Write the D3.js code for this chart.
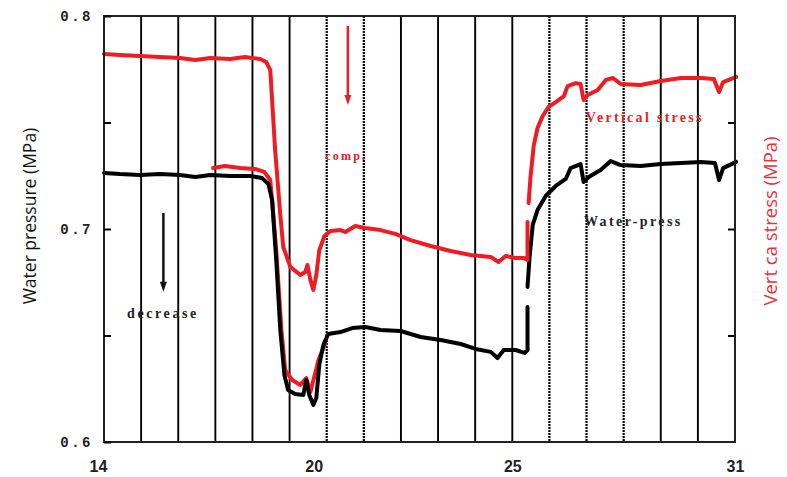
<!DOCTYPE html>
<html>
<head>
<meta charset="utf-8">
<script src="https://cdn.jsdelivr.net/npm/d3@7"></script>
<style>
  body { margin: 0; background: #fff; }
  svg { display: block; }
  .lbl-serif { font-family: "Liberation Serif", "DejaVu Serif", serif; font-weight: bold; }
</style>
</head>
<body>
<div id="chart"></div>
<script>
// time (day) and pressure values, null = gap in the trace
const stressT = [14.00, 14.43, 14.97, 15.51, 16.05, 16.46, 16.86, 17.40, 17.80, 18.21, 18.37, 18.48, 18.61, 18.75, 18.83, 19.02, 19.29, 19.42, 19.48, 19.56, 19.64, 19.72, 19.80, 19.94, 20.10, 20.37, 20.50, 20.77, 21.04, 21.45, 21.85, 22.26, 22.80, 23.34, 23.88, 24.42, 24.63, 24.82, 25.09, 25.31, 25.41, 25.41, 25.42, 25.44, 25.49, 25.58, 25.68, 25.82, 25.98, 26.17, 26.39, 26.49, 26.71, 26.84, 26.92, 27.03, 27.30, 27.52, 27.71, 27.92, 28.46, 29.00, 29.54, 30.08, 30.43, 30.57, 30.68, 31.03];
const stressV = [0.7822, 0.7817, 0.7812, 0.7808, 0.7803, 0.7793, 0.7803, 0.7798, 0.7808, 0.7798, 0.7784, 0.7746, 0.7371, 0.7066, 0.6915, 0.6822, 0.6784, 0.6798, 0.6831, 0.6761, 0.6714, 0.6784, 0.6901, 0.6967, 0.6991, 0.6995, 0.6986, 0.7014, 0.7005, 0.6995, 0.6977, 0.6948, 0.6920, 0.6897, 0.6878, 0.6869, 0.6845, 0.6873, 0.6864, 0.6864, 0.6854, 0.7033, null, 0.7122, 0.7244, 0.7394, 0.7474, 0.7531, 0.7573, 0.7596, 0.7624, 0.7671, 0.7685, 0.7681, 0.7606, 0.7629, 0.7653, 0.7700, 0.7709, 0.7681, 0.7676, 0.7695, 0.7709, 0.7709, 0.7704, 0.7643, 0.7690, 0.7714];

const stress2T = [16.94, 17.26, 17.67, 18.07, 18.32, 18.48, 18.64, 18.78, 18.88, 19.07, 19.29, 19.45, 19.56, 19.78, 19.96];
const stress2V = [0.7286, 0.7296, 0.7286, 0.7282, 0.7268, 0.7230, 0.6901, 0.6526, 0.6338, 0.6291, 0.6268, 0.6300, 0.6235, 0.6385, 0.6465];

const waterT = [14.00, 14.43, 14.97, 15.51, 16.05, 16.46, 16.86, 17.40, 17.94, 18.26, 18.43, 18.53, 18.64, 18.75, 18.86, 18.96, 19.15, 19.37, 19.45, 19.53, 19.64, 19.72, 19.80, 19.91, 20.04, 20.37, 20.69, 21.04, 21.45, 21.99, 22.53, 23.07, 23.61, 24.01, 24.42, 24.60, 24.77, 25.09, 25.33, 25.41, 25.41, 25.41, 25.41, 25.47, 25.55, 25.68, 25.90, 26.17, 26.44, 26.57, 26.84, 26.92, 27.06, 27.38, 27.65, 27.92, 28.46, 29.00, 29.54, 30.08, 30.46, 30.57, 30.68, 31.03];
const waterV = [0.7263, 0.7258, 0.7254, 0.7258, 0.7254, 0.7244, 0.7254, 0.7249, 0.7249, 0.7239, 0.7211, 0.7136, 0.6854, 0.6526, 0.6315, 0.6244, 0.6225, 0.6221, 0.6291, 0.6221, 0.6174, 0.6207, 0.6362, 0.6455, 0.6507, 0.6516, 0.6535, 0.6540, 0.6526, 0.6521, 0.6493, 0.6479, 0.6460, 0.6437, 0.6423, 0.6394, 0.6432, 0.6432, 0.6418, 0.6432, 0.6634, null, 0.6728, 0.6878, 0.7019, 0.7089, 0.7155, 0.7202, 0.7235, 0.7286, 0.7305, 0.7221, 0.7244, 0.7277, 0.7319, 0.7300, 0.7296, 0.7305, 0.7310, 0.7315, 0.7310, 0.7230, 0.7286, 0.7315];

const xTicks = [14, 20, 25, 31];
const gridDays = d3.range(15, 31);
const dottedDays = [20, 21, 26, 27, 28];
const yLabelTicks = [0.6, 0.7, 0.8];
const yMinorTicks = [0.65, 0.75];

const W = 787, H = 477;
const margin = { top: 16, right: 52, bottom: 35, left: 104 };
const width = W - margin.left - margin.right,
      height = H - margin.top - margin.bottom;

const RED = "#ee1c24";

const svg = d3.select("#chart").append("svg")
    .attr("width", W)
    .attr("height", H);
const g = svg.append("g")
    .attr("transform", `translate(${margin.left},${margin.top})`);

const x = d3.scaleLinear().domain([14, 31]).range([0, width]);
const y = d3.scaleLinear().domain([0.6, 0.8]).range([height, 0]);
const y2 = d3.scaleLinear().domain([0.6, 0.8]).range([height, 0]); // right axis, unlabelled

// vertical grid lines
g.selectAll(".grid")
  .data(gridDays)
  .enter().append("line")
    .attr("class", "grid")
    .attr("x1", d => x(d)).attr("x2", d => x(d))
    .attr("y1", 0).attr("y2", height)
    .attr("stroke", "#000")
    .attr("stroke-width", d => dottedDays.includes(d) ? 2.2 : 1.9)
    .attr("stroke-dasharray", d => dottedDays.includes(d) ? "2,1" : null);

// curves
const zip = (t, v) => t.map((d, i) => [d, v[i]]);
const line = d3.line()
    .defined(d => d[1] != null)
    .x(d => x(d[0]))
    .y(d => y(d[1]));
const line2 = d3.line()
    .defined(d => d[1] != null)
    .x(d => x(d[0]))
    .y(d => y2(d[1]));

g.append("path")
  .datum(zip(stress2T, stress2V))
  .attr("d", line2)
  .attr("fill", "none").attr("stroke", RED)
  .attr("stroke-width", 4).attr("stroke-linejoin", "round").attr("stroke-linecap", "round");

g.append("path")
  .datum(zip(waterT, waterV))
  .attr("d", line)
  .attr("fill", "none").attr("stroke", "#000")
  .attr("stroke-width", 4).attr("stroke-linejoin", "round").attr("stroke-linecap", "round");

g.append("path")
  .datum(zip(stressT, stressV))
  .attr("d", line2)
  .attr("fill", "none").attr("stroke", RED)
  .attr("stroke-width", 4).attr("stroke-linejoin", "round").attr("stroke-linecap", "round");

// frame
g.append("rect")
  .attr("width", width).attr("height", height)
  .attr("fill", "none").attr("stroke", "#222").attr("stroke-width", 2);

// left axis: ticks inward
const yAxis = d3.axisLeft(y)
    .tickValues(yLabelTicks.concat(yMinorTicks))
    .tickSize(-7)
    .tickPadding(11)
    .tickFormat(d => yLabelTicks.includes(d) ? d3.format(".1f")(d) : "");
const ya = g.append("g").call(yAxis);
ya.select(".domain").remove();
ya.selectAll("line").attr("stroke", "#000").attr("stroke-width", 2);
ya.selectAll("text")
  .attr("font-family", "'Liberation Mono', 'DejaVu Sans Mono', monospace")
  .attr("font-weight", "bold")
  .attr("font-size", 14)
  .attr("letter-spacing", "2.5px")
  .attr("fill", "#222");

// right axis: ticks inward, no labels
const yAxis2 = d3.axisRight(y2)
    .tickValues([0.65, 0.7, 0.75])
    .tickSize(-7)
    .tickFormat("");
const ya2 = g.append("g").attr("transform", `translate(${width},0)`).call(yAxis2);
ya2.select(".domain").remove();
ya2.selectAll("line").attr("stroke", "#000").attr("stroke-width", 2);

// bottom axis
const xAxis = d3.axisBottom(x).tickValues(xTicks).tickSize(0).tickPadding(19);
const xa = g.append("g").attr("transform", `translate(0,${height})`).call(xAxis);
xa.select(".domain").remove();
xa.selectAll("text")
  .attr("font-family", "'Liberation Sans', Arial, sans-serif")
  .attr("font-weight", "bold")
  .attr("font-size", 16)
  .attr("fill", "#222")
  .attr("dx", d => d === 20 ? -13 : (d === 14 ? -6 : 0));

// axis titles
svg.append("text")
  .attr("transform", "translate(36,216) rotate(-90)")
  .attr("text-anchor", "middle")
  .attr("font-family", "'Open Sans', 'Noto Sans', sans-serif")
  .attr("font-size", 17.5)
  .attr("fill", "#111")
  .text("Water pressure (MPa)");

svg.append("text")
  .attr("transform", "translate(777,221) rotate(-90)")
  .attr("text-anchor", "middle")
  .attr("font-family", "'Open Sans', 'Noto Sans', sans-serif")
  .attr("font-size", 18.5)
  .attr("fill", "#e8303c")
  .text("Vert ca  stress (MPa)");

// annotations
function arrow(xv, y0, y1, color) {
  g.append("line")
    .attr("x1", x(xv)).attr("x2", x(xv))
    .attr("y1", y(y0)).attr("y2", y(y1) - 8)
    .attr("stroke", color).attr("stroke-width", 2.5);
  const tx = x(xv), ty = y(y1);
  g.append("path")
    .attr("d", `M${tx - 3.5},${ty - 10} L${tx + 3.5},${ty - 10} L${tx},${ty} Z`)
    .attr("fill", color);
}
arrow(15.6, 0.7075, 0.6705, "#111");
arrow(20.57, 0.7953, 0.7582, RED);

g.append("text").attr("class", "lbl-serif")
  .attr("x", x(14.62)).attr("y", y(0.6582))
  .attr("font-size", 14).attr("letter-spacing", "2.6px")
  .attr("fill", "#222").text("decrease");

g.append("text").attr("class", "lbl-serif")
  .attr("x", x(19.96)).attr("y", y(0.7322))
  .attr("font-size", 12).attr("letter-spacing", "2.2px")
  .attr("fill", "#d8202c").text("comp.");

g.append("text").attr("class", "lbl-serif")
  .attr("x", x(26.98)).attr("y", y(0.7502))
  .attr("font-size", 14).attr("letter-spacing", "2.3px")
  .attr("fill", RED).text("Vertical stress");

g.append("text").attr("class", "lbl-serif")
  .attr("x", x(26.93)).attr("y", y(0.7015))
  .attr("font-size", 14).attr("letter-spacing", "2.4px")
  .attr("fill", "#222").text("Water-press");
</script>
</body>
</html>
